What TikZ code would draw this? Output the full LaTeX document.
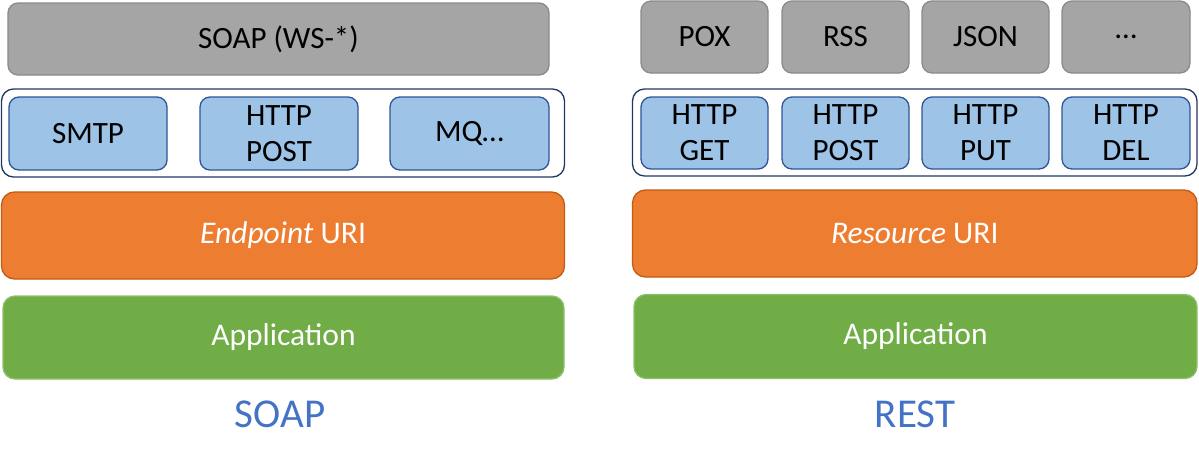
\documentclass[tikz,border=0pt]{standalone}
\usepackage{fontspec}
\setmainfont{Carlito}
\definecolor{grayfill}{HTML}{A5A5A5}
\definecolor{grayline}{HTML}{8A8A8A}
\definecolor{bluefill}{HTML}{9DC3E6}
\definecolor{blueline}{HTML}{2F5597}
\definecolor{navy}{HTML}{203864}
\definecolor{orangefill}{HTML}{ED7D31}
\definecolor{orangeline}{HTML}{C55A11}
\definecolor{greenfill}{HTML}{70AD47}
\definecolor{greenline}{HTML}{8CC168}
\definecolor{labelblue}{HTML}{4472C4}
\tikzset{
  base/.style={rectangle, inner sep=0pt, line width=1.3pt, align=center,
    font=\fontsize{31}{36}\selectfont},
  graybox/.style={base, fill=grayfill, draw=grayline, rounded corners=10pt, text=black},
  bluebox/.style={base, fill=bluefill, draw=blueline, rounded corners=10pt, text=black},
  outerbox/.style={rectangle, inner sep=0pt, fill=white, draw=navy, line width=1.3pt, rounded corners=12pt},
  orangebox/.style={base, fill=orangefill, draw=orangeline, rounded corners=13pt, text=white,
    font=\fontsize{31.5}{36}\selectfont},
  greenbox/.style={base, fill=greenfill, draw=greenline, rounded corners=12pt, text=white,
    font=\fontsize{31.5}{36}\selectfont},
  biglabel/.style={inner sep=0pt, text=labelblue, font=\fontsize{41}{48}\selectfont},
}
\begin{document}
\begin{tikzpicture}[x=1pt,y=-1pt]
\useasboundingbox (0,0) rectangle (1199,469);
% ---------- SOAP side ----------
\node[graybox, minimum width=541pt, minimum height=72pt] (soapws) at (278.5,39) {SOAP (WS-*)};
\node[outerbox, minimum width=563pt, minimum height=88pt] (outerL) at (283,133) {};
\node[bluebox, minimum width=158pt, minimum height=73pt] (smtp) at (88,133.5) {SMTP};
\node[bluebox, minimum width=158pt, minimum height=73pt] (postL) at (279,133.5) {HTTP\\POST};
\node[bluebox, minimum width=159pt, minimum height=73pt] (mq) at (469.5,133.5) {MQ…};
\node[orangebox, minimum width=563pt, minimum height=87pt] (endpoint) at (283,235.5) {\textit{Endpoint} URI};
\node[greenbox, minimum width=561pt, minimum height=83pt] (appL) at (283.5,337.5) {Application};
\node[biglabel] (soap) at (280,414) {SOAP};
% ---------- REST side ----------
\node[graybox, minimum width=127pt, minimum height=72pt] (pox) at (704.5,37) {POX};
\node[graybox, minimum width=127pt, minimum height=72pt] (rss) at (845.5,37) {RSS};
\node[graybox, minimum width=127pt, minimum height=72pt] (json) at (985.5,37) {JSON};
\node[graybox, minimum width=128pt, minimum height=72pt] (dots) at (1126,37) {…};
\node[outerbox, minimum width=564.5pt, minimum height=87pt] (outerR) at (914.75,132.5) {};
\node[bluebox, minimum width=127pt, minimum height=72pt] (get) at (704.5,133) {HTTP\\GET};
\node[bluebox, minimum width=127pt, minimum height=72pt] (postR) at (845.5,133) {HTTP\\POST};
\node[bluebox, minimum width=127pt, minimum height=72pt] (put) at (985.5,133) {HTTP\\PUT};
\node[bluebox, minimum width=128pt, minimum height=72pt] (del) at (1126,133) {HTTP\\DEL};
\node[orangebox, minimum width=564.5pt, minimum height=87pt] (resource) at (914.75,233.5) {\textit{Resource} URI};
\node[greenbox, minimum width=563pt, minimum height=84pt] (appR) at (915.5,336.5) {Application};
\node[biglabel] (rest) at (915,414) {REST};
\end{tikzpicture}
\end{document}
